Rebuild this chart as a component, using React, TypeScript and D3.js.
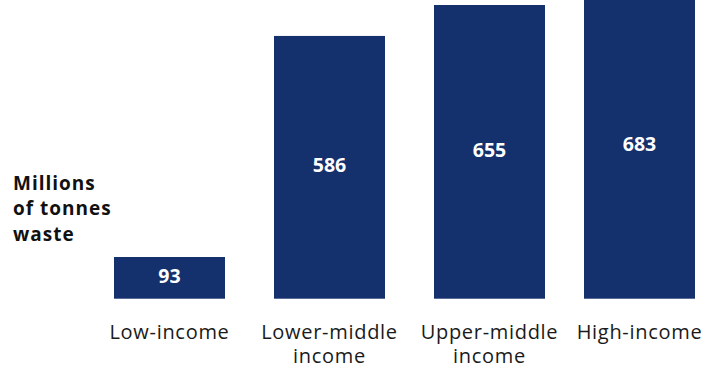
import React from "react";
import * as d3 from "d3";

const categories = ["Low-income", "Lower-middle income", "Upper-middle income", "High-income"];
const categoryLines = [["Low-income"], ["Lower-middle", "income"], ["Upper-middle", "income"], ["High-income"]];
const values = [93, 586, 655, 683];
const axisTitle = ["Millions", "of tonnes", "waste"];

const W = 723;
const H = 372;
const barW = 111;
const baseY = 298.7;

export default function App() {
  const x = d3
    .scaleOrdinal<string, number>()
    .domain(categories)
    .range([169.5, 329.5, 489.5, 639.5]);
  const y = d3.scaleLinear().domain([0, 655]).range([baseY, 5]);
  const font = "'Open Sans', 'Noto Sans', sans-serif";

  return (
    <svg
      width={W}
      height={H}
      style={{ position: "absolute", left: 0, top: 0, background: "#fff" }}
      fontFamily={font}
    >
      {categories.map((c, i) => {
        const cx = x(c);
        const top = y(values[i]);
        return (
          <g key={c}>
            <rect x={cx - barW / 2} y={top} width={barW} height={baseY - top} fill="#14306d" />
            <text
              x={cx}
              y={(top + baseY) / 2 - 2.5}
              textAnchor="middle"
              dominantBaseline="central"
              fill="#fff"
              fontWeight="bold"
              fontSize={19.5}
            >
              {values[i]}
            </text>
            {categoryLines[i].map((l, j) => (
              <text
                key={j}
                x={cx}
                y={339 + j * 24}
                textAnchor="middle"
                fill="#1a1a1a"
                fontSize={20}
                letterSpacing={0.7}
              >
                {l}
              </text>
            ))}
          </g>
        );
      })}
      {axisTitle.map((l, j) => (
        <text
          key={j}
          x={13}
          y={189.5 + j * 25.5}
          fill="#111"
          fontWeight="bold"
          fontSize={19}
          letterSpacing={1}
        >
          {l}
        </text>
      ))}
    </svg>
  );
}
